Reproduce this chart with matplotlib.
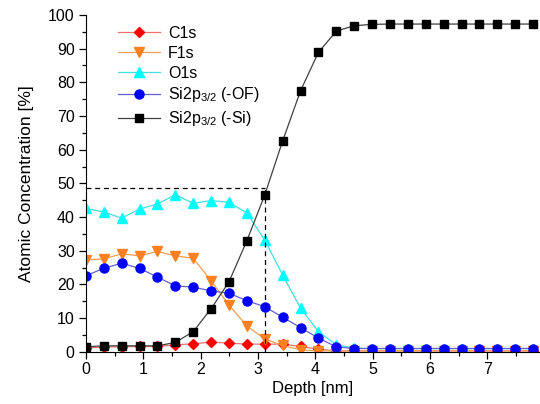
import numpy as np
import matplotlib.pyplot as plt

plt.rcParams['font.family'] = ['Liberation Sans', 'DejaVu Sans']
plt.rcParams['mathtext.fontset'] = 'custom'
plt.rcParams['mathtext.rm'] = 'Liberation Sans'
plt.rcParams['mathtext.it'] = 'Liberation Sans'

depth_step = 0.312
n_points = 26

c1s = [1.1, 1.5, 1.5, 1.6, 1.6, 2.1, 2.4, 2.9, 2.6, 2.3, 2.3, 2.3, 1.6, 0.8,
       0.3, 0.3, 0.3, 0.3, 0.3, 0.3, 0.3, 0.3, 0.3, 0.3, 0.3, 0.3]
f1s = [27.3, 27.6, 29.1, 28.5, 29.8, 28.5, 27.8, 21.1, 13.9, 7.7, 3.8, 1.9, 0.6, 0.3,
       0.3, 0.3, 0.3, 0.3, 0.3, 0.3, 0.3, 0.3, 0.3, 0.3, 0.3, 0.3]
o1s = [42.6, 41.5, 39.7, 42.4, 43.9, 46.6, 44.1, 44.9, 44.4, 41.2, 33.2, 22.8, 13.0, 6.0,
       2.1, 1.1, 1.0, 1.0, 1.0, 1.0, 1.0, 1.0, 1.0, 1.0, 1.0, 1.0]
si_of = [22.6, 24.8, 26.3, 24.8, 22.2, 19.6, 19.2, 18.1, 17.4, 15.2, 13.4, 10.3, 7.2, 4.1,
         1.5, 1.0, 1.0, 1.0, 1.0, 1.0, 1.0, 1.0, 1.0, 1.0, 1.0, 1.0]
si_si = [1.5, 1.8, 1.8, 1.8, 1.8, 2.8, 6.0, 12.8, 20.8, 33.0, 46.6, 62.6, 77.5, 88.9,
         95.2, 96.8, 97.2, 97.3, 97.3, 97.3, 97.3, 97.3, 97.3, 97.3, 97.3, 97.3]

# guide lines marking the Si-Si crossing
mark_depth = 3.12
mark_conc = 48.5

depth = np.arange(n_points) * depth_step

fig = plt.figure(figsize=(5.4, 4.04), dpi=100)
ax = fig.add_axes([0.159, 0.129, 0.841, 0.834])

series = [
    (c1s, 'C1s', 'D', '#ff0000', '#f07070', 5.5),
    (f1s, 'F1s', 'v', '#ff8020', '#f0a050', 6.5),
    (o1s, 'O1s', '^', '#00ffff', '#40e0e0', 6.5),
    (si_of, 'Si2p$_{3/2}$ (-OF)', 'o', '#0000ff', '#6060d0', 6.5),
    (si_si, 'Si2p$_{3/2}$ (-Si)', 's', '#000000', '#404040', 6),
]
for vals, label, mk, mc, lc, ms in series:
    ax.plot(depth, vals, color=lc, lw=0.9, marker=mk, ms=ms,
            markerfacecolor=mc, markeredgecolor=mc, label=label)

ax.plot([0, mark_depth], [mark_conc, mark_conc], 'k--', lw=0.9, dashes=(4, 3))
ax.plot([mark_depth, mark_depth], [0, mark_conc], 'k--', lw=0.9, dashes=(4, 3))

ax.set_xlim(0, 7.92)
ax.set_ylim(0, 100)
ax.set_xticks(range(0, 8))
ax.set_yticks(range(0, 101, 10))
ax.set_xticks(np.arange(0.5, 7.9, 1.0), minor=True)
ax.set_yticks(np.arange(5, 100, 10), minor=True)
ax.tick_params(direction='out', length=5, width=0.9, labelsize=11.5, pad=3)
ax.tick_params(axis='x', pad=2)
ax.tick_params(which='minor', direction='out', length=3, width=0.9)
ax.spines['top'].set_visible(False)
ax.spines['right'].set_visible(False)

ax.set_xlabel('Depth [nm]', fontsize=12, labelpad=3)
ax.set_ylabel('Atomic Concentration [%]', fontsize=12.5, labelpad=10)

ax.legend(loc='upper left', bbox_to_anchor=(0.04, 1.01), frameon=False,
          fontsize=11.5, handlelength=2.6, labelspacing=0.3, handletextpad=0.5)

plt.savefig('out.png')
